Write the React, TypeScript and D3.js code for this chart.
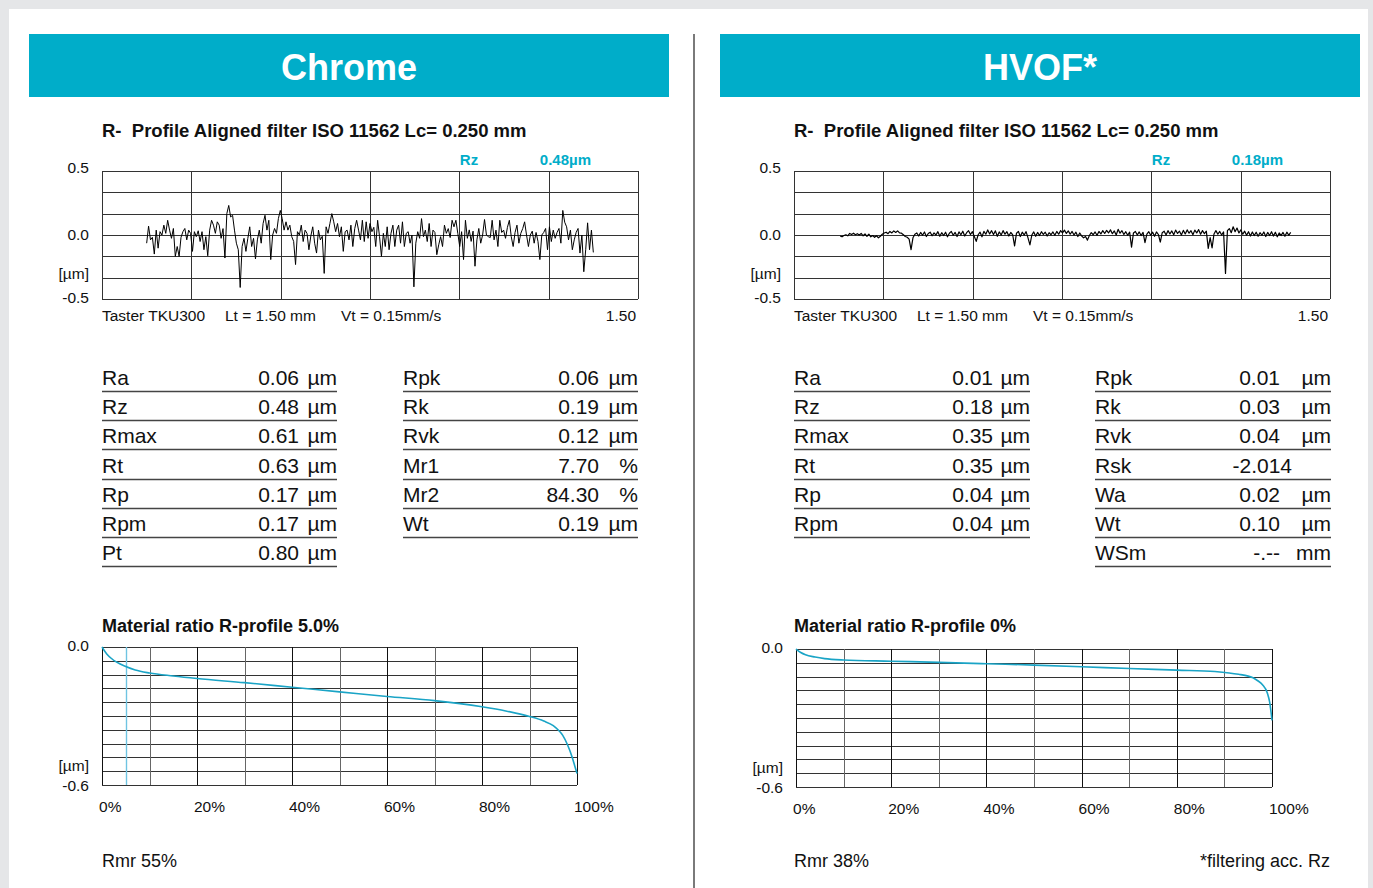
import React from "react";
import * as d3 from "d3";

const FONT = "'Liberation Sans', Arial, Helvetica, sans-serif";
const CYAN = "#00adc9";
const CURVE = "#1aa4c6";
const GRID = "#333";

// R-profile traces (µm), evenly spaced between start and end (mm)
const chromeProfileStart = 0.125;
const chromeProfileEnd = 1.375;
const chromeProfile = [
  -0.064, 0.069, -0.038, -0.018, -0.149, 0.038, -0.103, 0.026, 0.0, 0.077,
  0.013, 0.115, 0.038, -0.026, 0.051, -0.167, -0.09, -0.167, -0.018, 0.026,
  0.051, -0.038, 0.038, 0.013, -0.128, 0.026, -0.013, 0.033, -0.051, 0.026,
  -0.115, -0.013, -0.162, 0.038, 0.115, 0.077, 0.013, 0.103, 0.077, -0.026,
  0.05, -0.18, 0.167, 0.231, 0.141, 0.154, 0.038, -0.064, -0.115, -0.41,
  -0.09, -0.026, -0.128, -0.026, 0.064, -0.09, -0.026, -0.187, -0.038, 0.038,
  -0.064, 0.09, 0.154, 0.038, 0.115, -0.192, 0.0, 0.051, 0.013, 0.128,
  0.192, 0.128, 0.038, 0.103, 0.038, 0.077, -0.013, -0.05, -0.231, 0.026,
  0.0, 0.077, -0.051, 0.038, 0.013, -0.115, -0.008, 0.064, -0.064, -0.141,
  0.038, -0.038, -0.01, -0.3, 0.064, 0.013, 0.09, 0.167, 0.103, 0.026,
  0.09, -0.013, 0.064, -0.128, 0.026, 0.038, -0.038, 0.077, -0.09, 0.05,
  0.115, 0.038, -0.038, 0.115, -0.051, 0.103, -0.026, 0.09, 0.026, 0.06,
  -0.09, 0.115, -0.013, -0.167, 0.013, -0.09, 0.064, -0.115, 0.013, 0.077,
  -0.09, 0.038, 0.077, -0.064, 0.103, -0.09, 0.013, 0.026, -0.064, 0.0,
  -0.405, -0.064, 0.026, -0.026, 0.128, -0.013, 0.038, -0.051, 0.09, -0.09,
  0.038, 0.02, -0.154, -0.077, -0.013, -0.09, 0.077, 0.013, 0.05, -0.02,
  0.115, 0.064, 0.115, 0.013, -0.09, 0.026, -0.192, 0.115, -0.026, 0.04,
  -0.05, 0.03, -0.244, -0.038, 0.051, -0.064, 0.0, 0.121, 0.0, -0.013,
  -0.02, 0.115, -0.038, 0.038, -0.09, 0.115, 0.02, 0.038, -0.026, 0.06,
  0.115, -0.013, -0.09, 0.02, 0.077, -0.064, 0.013, 0.05, 0.103, 0.0,
  -0.09, 0.0, 0.03, -0.064, 0.02, -0.05, -0.192, 0.0, 0.02, 0.051,
  -0.115, 0.064, -0.051, 0.038, -0.026, 0.02, 0.051, -0.064, 0.192, 0.1,
  0.064, -0.038, 0.038, -0.115, -0.038, 0.02, 0.051, -0.141, 0.0, -0.287,
  -0.115, 0.095, -0.115, 0.038, -0.136,
];

const hvofProfileStart = 0.129;
const hvofProfileEnd = 1.39;
const hvofProfile = [
  -0.008, -0.014, -0.004, 0.002, -0.006, 0.012, 0.004, 0.014, 0.002, 0.01,
  0.0, 0.012, -0.006, 0.008, -0.01, 0.006, -0.014, -0.004, -0.018, -0.006,
  -0.022, -0.01, 0.006, 0.016, 0.022, 0.01, 0.028, 0.016, 0.032, 0.02,
  0.032, 0.016, 0.014, 0.002, -0.012, -0.018, -0.032, -0.115, -0.022, 0.006,
  0.016, -0.008, 0.02, -0.002, 0.024, -0.012, 0.012, 0.022, -0.006, 0.016,
  0.0, 0.026, -0.01, 0.018, -0.004, 0.022, -0.014, 0.014, 0.028, -0.002,
  0.02, -0.012, 0.024, 0.002, 0.03, -0.008, 0.018, 0.034, 0.004, 0.026,
  -0.012, -0.05, 0.002, 0.022, -0.014, 0.028, 0.006, 0.04, 0.008, 0.034,
  0.004, 0.032, -0.01, 0.024, 0.0, 0.034, 0.006, 0.026, -0.008, 0.02,
  0.002, -0.085, 0.014, 0.028, -0.012, 0.022, 0.0, 0.026, -0.022, -0.077,
  0.0, 0.024, -0.01, 0.02, -0.004, 0.026, 0.004, 0.022, -0.008, 0.018,
  0.002, 0.024, -0.002, 0.028, 0.006, 0.034, 0.016, 0.038, 0.012, 0.032,
  0.006, 0.028, 0.0, 0.022, -0.012, 0.016, -0.008, -0.022, -0.012, -0.04,
  -0.004, 0.018, 0.002, 0.024, -0.002, 0.028, 0.008, 0.034, 0.012, 0.036,
  0.016, 0.04, 0.01, 0.032, 0.0, 0.044, 0.014, 0.034, 0.004, 0.026,
  -0.002, 0.022, -0.095, 0.016, 0.028, 0.0, 0.024, -0.004, 0.02, -0.06,
  0.006, 0.026, -0.002, 0.022, -0.01, 0.024, 0.004, -0.055, 0.018, 0.03,
  0.0, 0.034, 0.008, 0.032, 0.002, 0.038, 0.012, 0.03, 0.0, 0.036,
  0.008, 0.04, 0.014, 0.034, 0.002, 0.038, 0.016, 0.042, 0.006, 0.034,
  0.01, 0.03, -0.105, -0.02, -0.1, 0.008, 0.034, 0.006, 0.028, 0.0,
  0.024, -0.3, 0.034, 0.05, 0.018, 0.064, 0.026, 0.054, 0.016, 0.04,
  0.006, 0.03, -0.002, 0.026, -0.008, 0.024, -0.004, 0.022, -0.01, 0.018,
  -0.002, 0.024, -0.012, 0.02, -0.004, 0.026, -0.008, 0.022, -0.014, 0.016,
  -0.004, 0.02, -0.01, 0.022, -0.002, 0.02,
];

// material ratio (Abbott) curves
const chromeRatioPct = [0, 1, 2, 3, 5, 7, 10, 15, 20, 30, 40, 50, 60, 70, 80, 85, 90, 93, 95, 96, 97, 98, 99, 99.5, 100];
const chromeRatioVal = [0, -0.03, -0.05, -0.065, -0.085, -0.1, -0.113, -0.126, -0.137, -0.155, -0.175, -0.195, -0.215, -0.233, -0.26, -0.278, -0.302, -0.322, -0.342, -0.36, -0.384, -0.425, -0.48, -0.515, -0.55];
const hvofRatioPct = [0, 1, 2, 4, 6, 10, 20, 30, 40, 50, 60, 70, 80, 88, 91, 93, 95, 96, 97, 98, 99, 99.5, 100];
const hvofRatioVal = [0, -0.015, -0.025, -0.035, -0.042, -0.048, -0.053, -0.058, -0.064, -0.07, -0.077, -0.085, -0.092, -0.098, -0.104, -0.11, -0.118, -0.125, -0.138, -0.155, -0.19, -0.23, -0.31];

// parameter tables
const chromeLeftLabels = ["Ra", "Rz", "Rmax", "Rt", "Rp", "Rpm", "Pt"];
const chromeLeftValues = ["0.06", "0.48", "0.61", "0.63", "0.17", "0.17", "0.80"];
const chromeLeftUnits = ["µm", "µm", "µm", "µm", "µm", "µm", "µm"];
const chromeRightLabels = ["Rpk", "Rk", "Rvk", "Mr1", "Mr2", "Wt"];
const chromeRightValues = ["0.06", "0.19", "0.12", "7.70", "84.30", "0.19"];
const chromeRightUnits = ["µm", "µm", "µm", "%", "%", "µm"];
const hvofLeftLabels = ["Ra", "Rz", "Rmax", "Rt", "Rp", "Rpm"];
const hvofLeftValues = ["0.01", "0.18", "0.35", "0.35", "0.04", "0.04"];
const hvofLeftUnits = ["µm", "µm", "µm", "µm", "µm", "µm"];
const hvofRightLabels = ["Rpk", "Rk", "Rvk", "Rsk", "Wa", "Wt", "WSm"];
const hvofRightValues = ["0.01", "0.03", "0.04", "-2.014", "0.02", "0.10", "-.--"];
const hvofRightUnits = ["µm", "µm", "µm", "", "µm", "µm", "mm"];

const ratioTicks = [0, 20, 40, 60, 80, 100];
const profileTitle = "R-\u00a0 Profile Aligned filter ISO 11562 Lc= 0.250 mm";

function ProfilePlot({ left, right, top, bottom, values, start, end, rz, traceWidth }) {
  const x = d3.scaleLinear().domain([0, 1.5]).range([left, right]);
  const y = d3.scaleLinear().domain([-0.5, 0.5]).range([bottom, top]);
  const step = (end - start) / (values.length - 1);
  const line = d3
    .line<number>()
    .x((d, i) => x(start + i * step))
    .y((d) => y(d));
  const hLines = d3.range(7).map((i) => -0.5 + i / 6);
  const vLines = d3.range(7).map((i) => i * 0.25);
  return (
    <g fontFamily={FONT}>
      <text x={left} y={136.5} fontSize={18.5} fontWeight="bold" fill="#111">{profileTitle}</text>
      {hLines.map((v, i) => (
        <line key={"h" + i} x1={left} x2={right} y1={Math.round(y(v)) + 0.5} y2={Math.round(y(v)) + 0.5} stroke={GRID} />
      ))}
      {vLines.map((v, i) => (
        <line key={"v" + i} x1={Math.round(x(v)) + 0.5} x2={Math.round(x(v)) + 0.5} y1={top} y2={bottom} stroke={GRID} />
      ))}
      <path d={line(values) || ""} fill="none" stroke="#000" strokeWidth={traceWidth} strokeLinejoin="round" />
      <g fontSize={15.5} fill="#111" textAnchor="end">
        <text x={left - 13} y={top + 2}>0.5</text>
        <text x={left - 13} y={y(0) + 5}>0.0</text>
        <text x={left - 13} y={bottom - 20}>[µm]</text>
        <text x={left - 13} y={bottom + 3.5}>-0.5</text>
      </g>
      <g fontSize={15} fontWeight="bold" fill={CYAN} textAnchor="middle">
        <text x={x(1.027)} y={top - 6}>Rz</text>
        <text x={x(1.297)} y={top - 6}>{rz}</text>
      </g>
      <g fontSize={15.5} fill="#111">
        <text x={left} y={bottom + 22}>Taster TKU300</text>
        <text x={left + 123} y={bottom + 22}>Lt = 1.50 mm</text>
        <text x={left + 239} y={bottom + 22}>Vt = 0.15mm/s</text>
        <text x={right - 2} y={bottom + 22} textAnchor="end">1.50</text>
      </g>
    </g>
  );
}

function RatioPlot({ left, right, top, bottom, pct, val, title, titleX, marker }) {
  const x = d3.scaleLinear().domain([0, 100]).range([left, right]);
  const y = d3.scaleLinear().domain([-0.6, 0]).range([bottom, top]);
  const line = d3
    .line<number>()
    .x((d, i) => x(pct[i]))
    .y((d) => y(d))
    .curve(d3.curveMonotoneX);
  const hLines = d3.range(11).map((i) => -0.06 * i);
  const vLines = d3.range(11).map((i) => i * 10);
  return (
    <g fontFamily={FONT}>
      <text x={titleX} y={631.5} fontSize={18} fontWeight="bold" fill="#111">{title}</text>
      {hLines.map((v, i) => (
        <line key={"h" + i} x1={left} x2={right} y1={Math.round(y(v)) + 0.5} y2={Math.round(y(v)) + 0.5} stroke={GRID} />
      ))}
      {vLines.map((v, i) => (
        <line key={"v" + i} x1={Math.round(x(v)) + 0.5} x2={Math.round(x(v)) + 0.5} y1={top} y2={bottom} stroke={i % 2 ? "#666" : "#111"} />
      ))}
      {marker !== undefined && (
        <line x1={Math.round(x(marker)) + 0.5} x2={Math.round(x(marker)) + 0.5} y1={top} y2={bottom} stroke="#6fc4e2" strokeWidth={1.4} />
      )}
      <path d={line(val) || ""} fill="none" stroke={CURVE} strokeWidth={1.6} />
      <g fontSize={15.5} fill="#111" textAnchor="end">
        <text x={left - 13} y={top + 3.5}>0.0</text>
        <text x={left - 13} y={bottom - 14}>[µm]</text>
        <text x={left - 13} y={bottom + 5.5}>-0.6</text>
      </g>
      <g fontSize={15.5} fill="#111">
        {ratioTicks.map((t) => (
          <text key={t} x={x(t) - 3} y={bottom + 26.5}>{t}%</text>
        ))}
      </g>
    </g>
  );
}

function ParamTable({ left, right, valueEnd, labels, values, units }) {
  const rowH = 29.2;
  const base = 385;
  return (
    <g fontFamily={FONT} fontSize={21} fill="#111">
      {labels.map((l, i) => {
        const by = base + i * rowH;
        const ly = Math.round(by + 6) + 0.5;
        return (
          <g key={l}>
            <text x={left} y={by}>{l}</text>
            <text x={units[i] ? valueEnd : valueEnd + 12} y={by} textAnchor="end">{values[i]}</text>
            {units[i] && <text x={right} y={by} textAnchor="end">{units[i]}</text>}
            <line x1={left} x2={right} y1={ly} y2={ly} stroke="#444" strokeWidth={1.6} />
          </g>
        );
      })}
    </g>
  );
}

function Banner({ left, right, label }) {
  return (
    <g>
      <rect x={left} y={34} width={right - left} height={63} fill={CYAN} />
      <text x={(left + right) / 2} y={80} textAnchor="middle" fill="#fff" fontFamily={FONT} fontWeight="bold" fontSize={36}>
        {label}
      </text>
    </g>
  );
}

export default function App() {
  const W = 1373;
  const H = 888;
  return (
    <div style={{ position: "absolute", left: 0, top: 0, width: W, height: H, overflow: "hidden" }}>
      <svg width={W} height={H} style={{ display: "block" }}>
        <rect x={0} y={0} width={W} height={H} fill="#e5e6e8" />
        <rect x={9} y={9} width={1359} height={H - 9} fill="#fff" />
        <line x1={694} x2={694} y1={34} y2={H} stroke="#7a7a7a" strokeWidth={2} />

        <Banner left={29} right={669} label="Chrome" />
        <Banner left={720} right={1360} label="HVOF*" />

        <ProfilePlot left={102} right={638} top={171} bottom={299} values={chromeProfile} start={chromeProfileStart} end={chromeProfileEnd} rz="0.48µm" traceWidth={1} />
        <ProfilePlot left={794} right={1330} top={171} bottom={299} values={hvofProfile} start={hvofProfileStart} end={hvofProfileEnd} rz="0.18µm" traceWidth={1.2} />

        <ParamTable left={102} right={337} valueEnd={299} labels={chromeLeftLabels} values={chromeLeftValues} units={chromeLeftUnits} />
        <ParamTable left={403} right={638} valueEnd={599} labels={chromeRightLabels} values={chromeRightValues} units={chromeRightUnits} />
        <ParamTable left={794} right={1030} valueEnd={993} labels={hvofLeftLabels} values={hvofLeftValues} units={hvofLeftUnits} />
        <ParamTable left={1095} right={1331} valueEnd={1280} labels={hvofRightLabels} values={hvofRightValues} units={hvofRightUnits} />

        <RatioPlot left={102} right={577} top={647} bottom={785} pct={chromeRatioPct} val={chromeRatioVal} title="Material ratio R-profile 5.0%" titleX={102} marker={5} />
        <RatioPlot left={796} right={1272} top={649} bottom={787} pct={hvofRatioPct} val={hvofRatioVal} title="Material ratio R-profile 0%" titleX={794} />

        <g fontFamily={FONT} fontSize={18} fill="#111">
          <text x={102} y={867}>Rmr 55%</text>
          <text x={794} y={867}>Rmr 38%</text>
          <text x={1330} y={867} textAnchor="end">*filtering acc. Rz</text>
        </g>
      </svg>
    </div>
  );
}
